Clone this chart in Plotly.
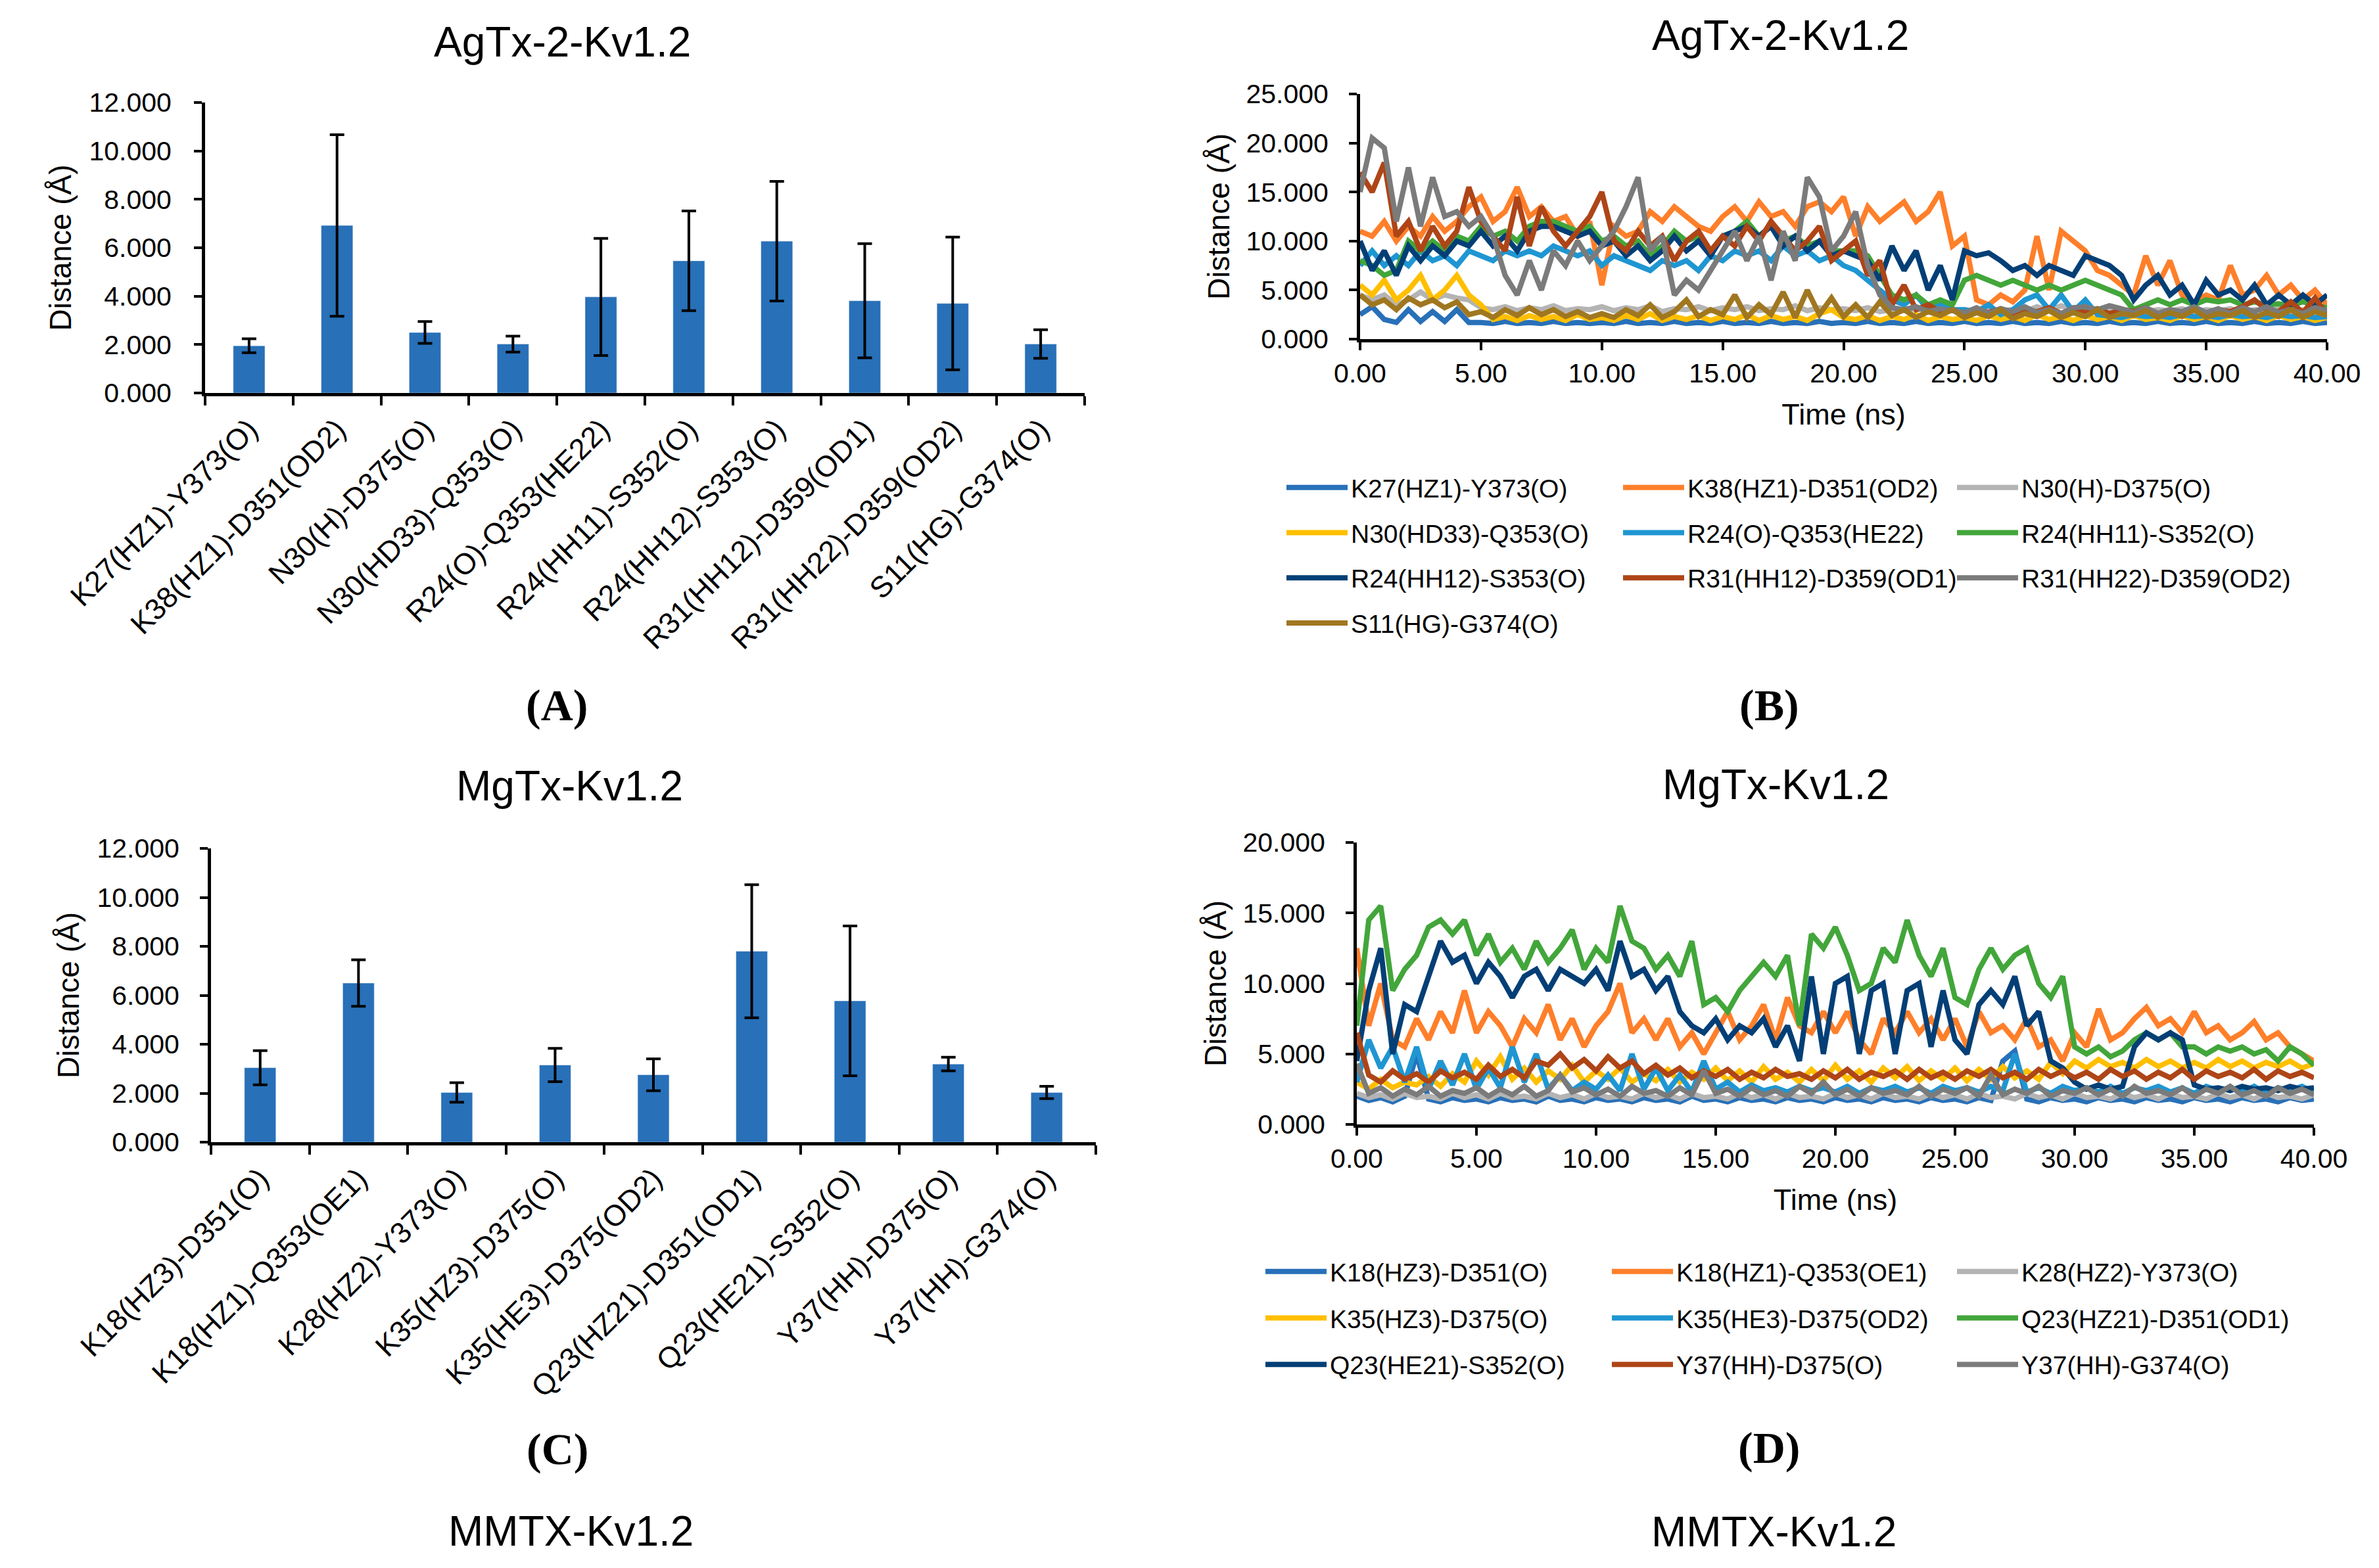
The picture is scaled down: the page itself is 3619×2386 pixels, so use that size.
import plotly.graph_objects as go

W, H = 3619, 2386
OFF = 8  # default page margin around the plot div
FW, FH = W - 2 * OFF, H - 2 * OFF
FONT = "Liberation Sans, Arial, sans-serif"

# ---------------- bar panels (mean +/- sd) ----------------
agtx_pairs = ["K27(HZ1)-Y373(O)", "K38(HZ1)-D351(OD2)", "N30(H)-D375(O)", "N30(HD33)-Q353(O)",
              "R24(O)-Q353(HE22)", "R24(HH11)-S352(O)", "R24(HH12)-S353(O)", "R31(HH12)-D359(OD1)",
              "R31(HH22)-D359(OD2)", "S11(HG)-G374(O)"]
agtx_mean = [1.95, 6.92, 2.50, 2.02, 3.97, 5.46, 6.27, 3.81, 3.70, 2.02]
agtx_sd = [0.29, 3.75, 0.45, 0.33, 2.42, 2.06, 2.47, 2.36, 2.74, 0.59]

mgtx_pairs = ["K18(HZ3)-D351(O)", "K18(HZ1)-Q353(OE1)", "K28(HZ2)-Y373(O)", "K35(HZ3)-D375(O)",
              "K35(HE3)-D375(OD2)", "Q23(HZ21)-D351(OD1)", "Q23(HE21)-S352(O)", "Y37(HH)-D375(O)",
              "Y37(HH)-G374(O)"]
mgtx_mean = [3.04, 6.50, 2.03, 3.15, 2.75, 7.80, 5.77, 3.19, 2.03]
mgtx_sd = [0.70, 0.95, 0.40, 0.68, 0.65, 2.72, 3.06, 0.28, 0.25]

# ---------------- time series (sampled every 0.5 ns) ----------------
t_ns = [i * 0.5 for i in range(81)]

ag_k27 = [2.5, 3.3, 2.0, 1.7, 3.0, 1.8, 2.8, 1.8, 3.0, 1.7,
          1.7, 1.6, 1.8, 1.6, 1.7, 1.6, 1.8, 1.6, 1.7, 1.6,
          1.7, 1.6, 1.8, 1.6, 1.7, 1.6, 1.8, 1.6, 1.7, 1.6,
          1.8, 1.6, 1.7, 1.6, 1.8, 1.6, 1.7, 1.6, 1.8, 1.6,
          1.7, 1.6, 1.8, 1.6, 1.7, 1.6, 1.8, 1.6, 1.7, 1.6,
          1.8, 1.6, 1.7, 1.6, 1.8, 1.6, 1.7, 1.6, 1.8, 1.6,
          1.7, 1.6, 1.8, 1.6, 1.7, 1.6, 1.8, 1.6, 1.7, 1.6,
          1.8, 1.6, 1.7, 1.6, 1.8, 1.6, 1.7, 1.6, 1.8, 1.6, 1.7]
ag_k38 = [11.0, 10.5, 12.0, 10.0, 11.5, 10.5, 12.5, 11.0, 12.0, 13.5,
          14.5, 12.0, 13.0, 15.5, 12.5, 13.5, 12.0, 12.5, 10.5, 12.0,
          5.5, 11.5, 10.5, 11.0, 13.0, 12.0, 13.5, 12.5, 11.5, 11.0,
          12.5, 13.5, 12.0, 14.0, 12.5, 13.0, 11.5, 13.5, 14.0, 13.0,
          14.5, 10.5, 13.5, 12.0, 13.0, 14.0, 12.0, 13.0, 15.0, 9.5,
          10.5, 4.0, 3.5, 4.5, 3.8, 5.0, 10.5, 5.0, 11.0, 10.0,
          9.0, 7.0, 6.5, 5.5, 4.5, 8.5, 5.5, 8.0, 4.5, 3.8,
          4.5, 4.0, 7.5, 4.5, 5.0, 6.5, 4.5, 5.5, 4.0, 5.0, 3.5]
ag_n30h = [4.5, 4.0, 4.5, 3.5, 4.0, 4.8, 4.0, 4.5, 4.2, 4.0,
           3.2, 3.0, 3.3, 2.9, 3.2, 3.0, 3.4, 2.9, 3.1, 3.0,
           3.3, 2.9, 3.2, 3.0, 3.4, 2.8, 3.1, 3.0, 3.3, 2.9,
           3.2, 3.0, 3.3, 2.9, 3.1, 3.0, 3.4, 2.9, 3.2, 3.0,
           3.1, 2.9, 3.2, 2.8, 3.0, 2.9, 3.1, 2.8, 3.0, 2.9,
           3.0, 2.8, 3.1, 2.9, 3.0, 2.8, 3.3, 2.9, 3.4, 3.0,
           3.1, 2.8, 3.0, 2.9, 3.1, 2.8, 3.0, 2.9, 3.1, 2.8,
           3.0, 2.9, 3.1, 2.8, 3.0, 2.9, 3.1, 2.8, 3.0, 2.9, 2.8]
ag_n30hd33 = [5.5, 4.5, 6.0, 4.0, 5.0, 6.5, 4.0, 5.0, 6.5, 4.5,
              3.5, 2.0, 2.3, 1.9, 2.4, 2.0, 2.3, 1.9, 2.5, 2.0,
              2.2, 1.9, 2.4, 2.0, 2.6, 1.9, 2.3, 2.0, 2.4, 1.9,
              2.3, 2.0, 2.5, 1.9, 2.4, 2.0, 2.3, 1.9, 2.6, 3.0,
              2.2, 2.0, 2.4, 1.9, 2.3, 2.0, 2.5, 1.9, 2.3, 2.0,
              2.2, 1.9, 2.4, 2.0, 2.3, 1.9, 2.5, 2.0, 2.3, 1.9,
              2.4, 2.0, 2.3, 1.9, 2.4, 2.0, 2.2, 1.9, 2.4, 2.0,
              2.3, 1.9, 2.4, 2.0, 2.3, 1.9, 2.4, 2.0, 2.3, 1.9, 2.2]
ag_r24o = [7.5, 9.0, 7.5, 8.5, 7.5, 9.0, 8.0, 8.5, 7.5, 9.0,
           8.5, 8.0, 9.0, 8.5, 9.0, 8.5, 9.5, 9.0, 8.5, 9.0,
           7.5, 8.5, 8.0, 7.5, 7.0, 8.0, 7.5, 8.0, 7.0, 8.5,
           8.0, 9.0, 8.5, 9.0, 8.0, 9.5, 8.5, 9.0, 8.0, 8.5,
           7.5, 7.0, 6.0, 5.0, 4.0, 3.5, 4.5, 3.0, 3.5, 3.0,
           3.0, 2.8, 3.5, 2.5, 3.0, 4.0, 4.5, 3.0, 4.5, 2.8,
           4.0, 2.5, 2.4, 2.2, 2.5, 2.3, 2.4, 2.2, 2.5, 2.3,
           2.4, 2.2, 2.5, 2.3, 2.4, 2.2, 2.5, 2.3, 2.4, 2.2, 2.3]
ag_r24hh11 = [8.0, 7.5, 6.5, 7.0, 10.0, 9.0, 10.0, 9.0, 10.5, 10.0,
              11.5, 10.5, 11.0, 10.0, 11.5, 12.0, 12.0, 11.5, 11.0, 11.5,
              10.0, 10.5, 9.5, 10.0, 8.5, 9.5, 11.0, 10.0, 10.5, 9.0,
              10.5, 11.0, 12.0, 10.5, 11.5, 10.0, 10.5, 9.5, 10.0, 9.0,
              9.0, 9.0, 8.5, 6.5, 4.5, 4.0, 4.5, 3.5, 4.0, 3.5,
              6.0, 6.5, 6.0, 5.5, 6.0, 5.5, 5.0, 5.5, 5.0, 5.5,
              6.0, 5.5, 5.0, 4.5, 3.0, 3.5, 4.0, 3.5, 4.0, 3.5,
              4.0, 3.8, 4.0, 3.5, 3.8, 3.5, 3.6, 3.4, 3.8, 3.5, 3.2]
ag_r24hh12 = [10.0, 7.0, 9.0, 6.5, 9.5, 8.0, 9.5, 8.5, 10.0, 9.5,
              11.0, 9.5, 10.5, 9.0, 11.0, 11.5, 11.5, 11.0, 10.5, 11.0,
              9.5, 10.0, 8.5, 9.5, 8.0, 9.0, 10.5, 9.0, 10.0, 8.5,
              10.5, 11.0, 11.5, 10.5, 11.5, 9.5, 10.5, 9.0, 10.0, 8.5,
              9.0, 8.5, 8.0, 6.0, 9.5, 7.0, 9.0, 5.0, 7.5, 4.0,
              9.0, 8.5, 8.8, 8.0, 7.0, 7.5, 6.5, 7.5, 7.0, 6.5,
              8.5, 8.0, 7.5, 6.5, 4.0, 5.5, 6.5, 4.5, 5.5, 3.5,
              6.0, 4.5, 5.0, 4.0, 5.5, 3.5, 4.5, 3.5, 4.5, 3.5, 4.5]
ag_r31hh12 = [17.0, 15.0, 18.0, 10.5, 12.0, 9.0, 11.5, 9.5, 11.0, 15.5,
              12.0, 10.5, 9.0, 14.5, 9.5, 13.5, 11.0, 9.5, 11.0, 12.5,
              15.0, 10.0, 9.0, 11.0, 9.5, 10.5, 8.0, 10.0, 11.0, 9.0,
              10.5, 9.5, 11.5, 10.0, 12.0, 10.5, 9.0, 10.0, 11.5, 8.0,
              9.0, 10.0, 6.5, 8.0, 3.5, 5.5, 3.0, 3.5, 2.8, 3.0,
              2.6, 3.0, 2.7, 3.1, 2.6, 3.0, 2.8, 3.2, 2.6, 3.0,
              2.7, 3.1, 2.6, 3.0, 2.8, 3.2, 2.6, 3.0, 2.7, 3.1,
              2.6, 3.0, 2.8, 3.3, 4.0, 3.0, 2.8, 3.8, 2.7, 4.2, 2.5]
ag_r31hh22 = [15.0, 20.5, 19.5, 12.0, 17.5, 11.5, 16.5, 12.5, 13.0, 11.5,
              12.5, 10.5, 6.5, 4.5, 8.0, 5.0, 9.0, 7.5, 10.0, 8.0,
              9.5, 11.0, 13.5, 16.5, 9.0, 10.5, 4.5, 6.0, 5.0, 7.0,
              9.0, 11.0, 8.0, 10.5, 6.0, 11.0, 8.0, 16.5, 14.5, 9.0,
              10.5, 13.0, 7.5, 4.5, 3.2, 3.0, 3.3, 2.8, 3.1, 2.9,
              2.7, 3.2, 2.6, 3.1, 2.8, 3.3, 2.7, 3.0, 2.6, 3.2,
              3.3, 3.0, 3.4, 3.1, 2.7, 3.2, 2.6, 3.0, 2.8, 3.3,
              2.7, 3.1, 2.6, 3.2, 2.8, 3.3, 2.7, 3.0, 2.6, 3.2, 2.9]
ag_s11 = [4.5, 3.5, 4.0, 3.0, 4.2, 3.5, 4.0, 3.2, 3.8, 2.5,
          2.8, 2.2, 3.0, 2.4, 3.2, 2.5, 3.0, 2.3, 2.8, 2.2,
          2.6, 2.2, 3.0, 2.4, 3.5, 2.2, 2.8, 4.0, 2.3, 3.0,
          2.5, 4.5, 2.2, 3.5, 2.5, 4.8, 2.2, 5.0, 2.5, 4.2,
          2.3, 3.5, 2.2, 3.8, 2.4, 3.0, 2.2, 2.8, 2.4, 3.0,
          2.2, 2.7, 2.3, 3.0, 2.1, 2.6, 2.3, 2.9, 2.2, 2.7,
          2.3, 3.0, 2.2, 2.6, 2.4, 2.9, 2.2, 2.7, 2.3, 3.0,
          2.2, 2.6, 2.4, 2.9, 2.2, 2.7, 2.3, 3.0, 2.2, 2.8, 2.4]

mg_k18hz3 = [2.0, 1.7, 1.9, 1.6, 2.0, 5.0, 1.8, 1.6, 1.9, 1.7,
             1.8, 1.6, 1.9, 1.7, 1.8, 1.6, 2.0, 1.7, 1.8, 1.6,
             1.9, 1.7, 1.8, 1.6, 1.9, 1.7, 1.8, 1.6, 2.0, 1.7,
             1.8, 1.6, 1.9, 1.7, 1.8, 1.6, 1.9, 1.7, 1.8, 1.6,
             1.9, 1.7, 1.8, 1.6, 1.9, 1.7, 1.8, 1.6, 1.9, 1.7,
             1.8, 1.6, 1.9, 1.7, 4.5, 5.2, 1.8, 1.6, 1.9, 1.7,
             1.8, 1.6, 1.9, 1.7, 1.8, 1.6, 1.9, 1.7, 1.8, 1.6,
             1.9, 1.7, 1.8, 1.6, 1.9, 1.7, 1.8, 1.6, 1.9, 1.7, 1.8]
mg_k18hz1 = [12.5, 7.0, 10.0, 6.0, 5.5, 7.5, 6.0, 8.0, 6.5, 9.5,
             6.5, 8.0, 7.0, 5.5, 7.5, 6.5, 8.5, 6.0, 7.5, 5.5,
             7.0, 8.0, 10.0, 6.5, 7.5, 6.0, 7.5, 5.5, 6.5, 5.0,
             6.5, 8.0, 6.0, 7.0, 8.5, 6.0, 9.0, 7.0, 6.5, 8.0,
             6.5, 8.0, 6.0, 5.0, 7.5, 6.5, 8.0, 6.5, 7.5, 6.0,
             7.5, 5.5, 8.0, 6.5, 7.0, 6.0, 7.5, 5.5, 6.0, 4.5,
             6.5, 5.5, 8.2, 6.0, 6.5, 7.5, 8.3, 7.0, 7.5, 6.5,
             8.0, 6.5, 7.0, 6.0, 6.5, 7.3, 6.0, 6.5, 5.5, 5.0, 4.5]
mg_k28 = [2.2, 1.9, 2.1, 1.8, 2.2, 1.9, 2.0, 1.8, 2.2, 1.9,
          2.1, 1.8, 2.2, 1.9, 2.0, 1.8, 2.2, 1.9, 2.1, 1.8,
          2.2, 1.9, 2.0, 1.8, 2.2, 1.9, 2.1, 1.8, 2.2, 1.9,
          2.0, 1.8, 2.2, 1.9, 2.1, 1.8, 2.2, 1.9, 2.0, 1.8,
          2.2, 1.9, 2.1, 1.8, 2.2, 1.9, 2.0, 1.8, 2.2, 1.9,
          2.1, 1.8, 2.2, 1.9, 2.0, 1.8, 2.2, 1.9, 2.1, 1.8,
          2.2, 1.9, 2.0, 1.8, 2.2, 1.9, 2.1, 1.8, 2.2, 1.9,
          2.0, 1.8, 2.2, 1.9, 2.1, 1.8, 2.2, 1.9, 2.0, 1.8, 2.1]
mg_k35hz3 = [3.0, 2.5, 3.2, 2.6, 3.0, 2.8, 3.4, 2.7, 3.6, 3.0,
             4.5, 3.5, 4.8, 3.2, 4.0, 3.0, 3.8, 3.2, 4.2, 3.0,
             3.8, 3.2, 4.0, 3.0, 3.6, 3.1, 3.9, 3.0, 3.7, 3.2,
             4.0, 3.1, 3.8, 3.0, 4.1, 3.2, 3.7, 3.0, 3.9, 3.1,
             4.2, 3.2, 3.8, 3.0, 4.0, 3.3, 4.1, 3.1, 3.8, 3.2,
             4.0, 3.1, 3.9, 3.2, 4.1, 3.3, 3.8, 3.2, 4.4, 3.6,
             4.5, 4.0, 4.6, 4.1, 4.4, 4.0, 4.6, 4.1, 4.5, 4.0,
             4.4, 4.0, 4.6, 4.1, 4.5, 4.0, 4.4, 4.1, 4.5, 4.0, 4.3]
mg_k35he3 = [3.0, 6.0, 4.0, 5.5, 3.0, 5.5, 2.5, 4.5, 2.8, 5.0,
             2.5, 4.0, 2.6, 5.5, 3.0, 5.0, 2.5, 3.5, 2.4, 3.0,
             2.5, 3.5, 2.4, 5.0, 2.5, 4.0, 2.4, 3.5, 2.3, 4.5,
             2.5, 3.0, 2.3, 2.8, 2.4, 2.6, 2.3, 2.7, 2.4, 2.6,
             2.3, 2.7, 2.2, 2.6, 2.4, 2.7, 2.3, 2.6, 2.2, 2.7,
             2.4, 2.6, 2.3, 2.7, 2.4, 5.0, 2.3, 2.6, 2.2, 2.7,
             2.4, 2.6, 2.3, 2.7, 2.2, 2.6, 2.4, 2.7, 2.3, 2.6,
             2.2, 2.7, 2.4, 2.6, 2.3, 2.7, 2.2, 2.6, 2.4, 2.7, 2.3]
mg_q23hz21 = [7.0, 14.5, 15.5, 9.5, 11.0, 12.0, 14.0, 14.5, 13.5, 14.5,
              12.0, 13.5, 11.5, 12.5, 11.0, 13.0, 11.5, 12.5, 13.8, 11.0,
              12.5, 11.5, 15.5, 13.0, 12.5, 11.0, 12.0, 10.5, 13.0, 8.5,
              9.0, 8.0, 9.5, 10.5, 11.5, 10.5, 12.0, 7.0, 13.5, 12.5,
              14.0, 12.0, 9.5, 10.0, 12.5, 11.5, 14.5, 12.0, 10.5, 12.5,
              9.0, 8.5, 11.0, 12.5, 11.0, 12.0, 12.5, 10.0, 9.0, 10.5,
              5.5, 5.0, 5.5, 4.8, 5.2, 6.0, 6.5, 6.0, 6.5, 5.5,
              5.5, 5.0, 5.5, 5.2, 5.5, 5.0, 5.3, 4.5, 5.5, 5.0, 4.2]
mg_q23he21 = [4.5, 9.5, 12.5, 5.0, 8.5, 8.0, 10.5, 13.0, 11.5, 12.0,
              10.0, 11.5, 10.5, 9.0, 10.5, 11.0, 9.5, 11.0, 10.5, 10.0,
              11.0, 9.5, 13.0, 10.5, 11.0, 9.5, 10.5, 8.0, 7.0, 6.5,
              7.5, 6.0, 7.0, 6.5, 7.5, 5.5, 7.0, 4.5, 10.5, 5.0,
              10.0, 10.5, 5.0, 9.5, 10.0, 5.0, 9.5, 10.0, 5.5, 9.5,
              6.0, 5.0, 8.5, 9.5, 8.5, 10.5, 7.0, 8.0, 4.5, 4.0,
              3.0, 2.5, 2.8, 2.5, 2.7, 5.5, 6.5, 6.0, 6.5, 6.0,
              2.8, 2.5, 2.6, 2.4, 2.7, 2.5, 2.6, 2.4, 2.7, 2.5, 2.6]
mg_y37d375 = [6.5, 3.5, 3.0, 3.8, 3.2, 3.6, 3.0, 3.8, 3.3, 3.7,
              3.2, 4.2, 3.4, 3.9, 3.3, 4.5, 4.2, 5.0, 4.0, 4.6,
              3.8, 4.8, 4.0, 4.5, 3.6, 4.2, 3.5, 4.0, 3.3, 3.8,
              3.4, 3.9, 3.2, 3.7, 3.3, 3.9, 3.4, 3.6, 3.2, 3.8,
              3.3, 3.9, 3.2, 3.7, 3.4, 3.8, 3.2, 3.9, 3.3, 3.7,
              3.2, 3.8, 3.4, 3.9, 3.3, 3.7, 3.2, 3.9, 3.4, 3.8,
              3.3, 3.7, 3.2, 3.9, 3.4, 3.8, 3.2, 3.7, 3.3, 3.9,
              3.2, 3.8, 3.4, 3.7, 3.3, 3.9, 3.2, 3.8, 3.4, 3.7, 3.3]
mg_y37g374 = [4.3, 2.2, 2.6, 2.0, 2.5, 2.1, 2.7, 2.0, 2.4, 2.2,
              2.6, 2.0, 2.5, 2.1, 2.7, 2.0, 2.4, 3.5, 2.3, 2.6,
              2.1, 2.5, 2.0, 2.7, 2.2, 2.4, 2.0, 2.6, 2.1, 3.8,
              2.2, 2.5, 2.0, 2.6, 2.1, 2.4, 2.0, 2.7, 2.2, 3.0,
              2.1, 2.5, 2.0, 2.6, 2.2, 2.4, 2.1, 2.7, 2.0, 2.5,
              2.2, 2.6, 2.0, 3.5, 2.1, 2.5, 2.2, 2.7, 2.0, 2.4,
              2.2, 2.6, 2.1, 2.5, 2.0, 2.7, 2.2, 2.4, 2.1, 2.6,
              2.0, 2.5, 2.2, 2.7, 2.1, 2.4, 2.0, 2.6, 2.2, 2.5, 2.1]

ag_series = [ag_k27, ag_k38, ag_n30h, ag_n30hd33, ag_r24o, ag_r24hh11,
             ag_r24hh12, ag_r31hh12, ag_r31hh22, ag_s11]
mg_series = [mg_k18hz3, mg_k18hz1, mg_k28, mg_k35hz3, mg_k35he3, mg_q23hz21,
             mg_q23he21, mg_y37d375, mg_y37g374]

palette = ["#2870B8", "#FF7F2A", "#B4B4B4", "#FFBF00", "#1F96D2",
           "#42A63A", "#033F76", "#AE4517", "#7B7B7B", "#A07720"]
bar_color = "#2870B8"


def px(x):
    return (x - OFF) / FW


def py(y):
    return 1 - (y - OFF) / FH


def xdom(a, b):
    return [px(a), px(b)]


def ydom(top, bottom):
    return [py(bottom), py(top)]


fig = go.Figure()

# bars with error bars
fig.add_trace(go.Bar(x=agtx_pairs, y=agtx_mean, width=0.36, marker_color=bar_color,
                     error_y=dict(type="data", array=agtx_sd, color="black", thickness=4, width=11),
                     xaxis="x", yaxis="y", showlegend=False))
fig.add_trace(go.Bar(x=mgtx_pairs, y=mgtx_mean, width=0.32, marker_color=bar_color,
                     error_y=dict(type="data", array=mgtx_sd, color="black", thickness=4, width=11),
                     xaxis="x3", yaxis="y3", showlegend=False))

# time series
for i, (name, ys) in enumerate(zip(agtx_pairs, ag_series)):
    leg = ["legend", "legend2", "legend3"][i % 3]
    fig.add_trace(go.Scatter(x=t_ns, y=ys, mode="lines", name=name,
                             line=dict(color=palette[i], width=8),
                             xaxis="x2", yaxis="y2", legend=leg, legendgroup="ag%d" % i))
for i, (name, ys) in enumerate(zip(mgtx_pairs, mg_series)):
    leg = ["legend4", "legend5", "legend6"][i % 3]
    fig.add_trace(go.Scatter(x=t_ns, y=ys, mode="lines", name=name,
                             line=dict(color=palette[i], width=8),
                             xaxis="x4", yaxis="y4", legend=leg, legendgroup="mg%d" % i))

base_ax = dict(showline=True, linecolor="black", linewidth=5, showgrid=False, zeroline=False,
               ticks="outside", tickcolor="black", tickwidth=4, automargin=False,
               tickfont=dict(family=FONT, size=41, color="black"))
ytitle = dict(text="Distance (Å)", font=dict(family=FONT, size=46, color="black"))
xtitle = dict(text="Time (ns)", font=dict(family=FONT, size=45, color="black"), standoff=26)

cat_x = dict(base_ax, type="category", tickson="boundaries", ticklen=14, tickangle=-45,
             tickfont=dict(family=FONT, size=45, color="black"), ticklabelstandoff=6)
bar_y = dict(base_ax, range=[0, 12], dtick=2, tickformat=".3f", ticklen=12,
             ticklabelstandoff=26, title=dict(ytitle, standoff=14))
time_x = dict(base_ax, range=[0, 40], dtick=5, tickformat=".2f", ticklen=12,
              ticklabelstandoff=0, title=xtitle)
time_y = dict(base_ax, dtick=5, tickformat=".3f", ticklen=12, ticklabelstandoff=23,
              title=dict(ytitle, standoff=12))


def legend_box(x_px, y_px, gap):
    return dict(x=px(x_px), y=py(y_px), xanchor="left", yanchor="top", orientation="v",
                font=dict(family=FONT, size=39, color="black"), bgcolor="rgba(0,0,0,0)",
                itemwidth=93, traceorder="grouped", tracegroupgap=gap)


def note(text, x_px, y_px, size, family=FONT, bold=False):
    if bold:
        text = "<b>" + text + "</b>"
    return dict(text=text, x=px(x_px), y=py(y_px), xref="paper", yref="paper",
                xanchor="center", yanchor="middle", showarrow=False,
                font=dict(family=family, size=size, color="black"))


serif = "Liberation Serif, Times New Roman, serif"

fig.update_layout(
    width=FW, height=FH, margin=dict(l=0, r=0, t=0, b=0, autoexpand=False),
    paper_bgcolor="white", plot_bgcolor="white",
    xaxis=dict(cat_x, domain=xdom(312, 1650), range=[-0.5, 9.5], anchor="y"),
    yaxis=dict(bar_y, domain=ydom(156, 598), anchor="x"),
    xaxis3=dict(cat_x, domain=xdom(321, 1667), range=[-0.5, 8.5], anchor="y3"),
    yaxis3=dict(bar_y, domain=ydom(1291, 1738), anchor="x3", ticklabelstandoff=23),
    xaxis2=dict(time_x, domain=xdom(2069, 3540), anchor="y2"),
    yaxis2=dict(time_y, domain=ydom(143, 516), range=[0, 25], anchor="x2"),
    xaxis4=dict(time_x, domain=xdom(2064, 3520), anchor="y4"),
    yaxis4=dict(time_y, domain=ydom(1282, 1711), range=[0, 20], anchor="x4"),
    legend=legend_box(1952, 710, 15),
    legend2=legend_box(2464, 710, 15),
    legend3=legend_box(2972, 710, 15),
    legend4=legend_box(1920, 1903, 17),
    legend5=legend_box(2447, 1903, 17),
    legend6=legend_box(2972, 1903, 17),
    annotations=[
        note("AgTx-2-Kv1.2", 855, 64, 64),
        note("AgTx-2-Kv1.2", 2708, 54, 64),
        note("MgTx-Kv1.2", 866, 1196, 64),
        note("MgTx-Kv1.2", 2701, 1194, 64),
        note("(A)", 847, 1073, 68, serif, True),
        note("(B)", 2691, 1073, 68, serif, True),
        note("(C)", 848, 2205, 68, serif, True),
        note("(D)", 2691, 2203, 68, serif, True),
        note("MMTX-Kv1.2", 868, 2330, 64),
        note("MMTX-Kv1.2", 2698, 2331, 64),
    ],
)

fig.write_html("out.html")
